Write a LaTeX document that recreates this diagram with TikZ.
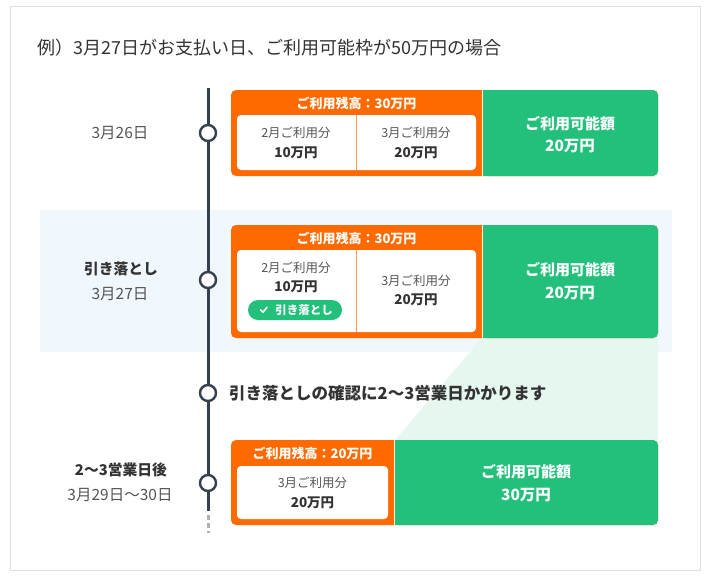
\documentclass[tikz,border=0pt]{standalone}
\usepackage{fontspec}
\setmainfont{Noto Sans CJK JP}
\definecolor{org}{HTML}{FF6A00}
\definecolor{grn}{HTML}{22C07A}
\definecolor{band}{HTML}{F0F7FD}
\definecolor{lgrn}{HTML}{E5F7EE}
\definecolor{txt}{HTML}{333333}
\definecolor{gtxt}{HTML}{555555}
\definecolor{tl}{HTML}{35404E}
\newcommand{\fs}[1]{\fontsize{#1}{#1}\selectfont}
\tikzset{
  orgbox/.style={fill=org, rounded corners=5pt},
  grnbox/.style={fill=grn, rounded corners=5pt},
  inner/.style={fill=white, rounded corners=4pt},
  hdr/.style={text=white, font=\fs{13}\bfseries, inner sep=0pt},
  small/.style={text=gtxt, font=\fs{12.5}, inner sep=0pt},
  amt/.style={text=txt, font=\fs{13.5}\bfseries, inner sep=0pt},
  gtitle/.style={text=white, font=\fs{15}\bfseries, inner sep=0pt},
  gamt/.style={text=white, font=\fs{15.5}\bfseries, inner sep=0pt},
  datelbl/.style={text=gtxt, font=\fs{15.5}, inner sep=0pt},
  boldlbl/.style={text=txt, font=\fs{14.8}\bfseries, inner sep=0pt},
  dot/.style={circle, draw=tl, line width=2.4pt, fill=white, minimum size=16pt, inner sep=0pt},
}
\begin{document}
\begin{tikzpicture}[x=1pt,y=-1pt]
\useasboundingbox (0,0) rectangle (710,579);
\fill[white] (0,0) rectangle (710,579);
\draw[draw=black!13, line width=1pt] (10,6) rectangle (700,570);
\node[anchor=west, text=txt, font=\fs{18}, inner sep=0pt] (title) at (37,48) {例）3月27日がお支払い日、ご利用可能枠が50万円の場合};

% highlight band
\fill[band] (40,210) rectangle (672,352);
% light green transition
\fill[lgrn] (482,338) -- (658,338) -- (658,440) -- (395,440) -- cycle;

% timeline
\coordinate (tltop) at (208,88);
\coordinate (tlend) at (208,511);
\coordinate (tldash) at (208,533);
\draw[tl, line width=3pt] (tltop) -- (tlend);
\draw[black!30, line width=3pt, dash pattern=on 5pt off 3pt] (208,515) -- (tldash);
\node[dot] (d1) at (208,133) {};
\node[dot] (d2) at (208,280) {};
\node[dot] (d3) at (208,393) {};
\node[dot] (d4) at (208,483) {};

% ---------- Row 1 ----------
\node[datelbl] (l1) at (120,133) {3月26日};
\fill[orgbox] (231,90) rectangle (658,176);
\fill[grnbox] (482,90) rectangle (658,176);
\fill[grn] (482,90) rectangle (492,176);
\draw[white!85!org, line width=0.8pt] (482.2,90) -- (482.2,176);
\fill[inner] (237,115) rectangle (476,170);
\draw[org!70, line width=1pt] (356,115) -- (356,170);
\node[hdr] (h1) at (356.5,103) {ご利用残高：30万円};
\node[small] (a1) at (296,133) {2月ご利用分};
\node[amt] (b1) at (296,153) {10万円};
\node[small] (a2) at (416,133) {3月ご利用分};
\node[amt] (b2) at (416,153) {20万円};
\node[gtitle] (g1) at (570,124) {ご利用可能額};
\node[gamt] (g2) at (570,146) {20万円};

% ---------- Row 2 ----------
\node[boldlbl] (l2a) at (121,269) {引き落とし};
\node[datelbl] (l2b) at (120,294) {3月27日};
\fill[orgbox] (231,225) rectangle (658,338);
\fill[grnbox] (482,225) rectangle (658,338);
\fill[grn] (482,225) rectangle (492,338);
\draw[white!85!org, line width=0.8pt] (482.2,225) -- (482.2,338);
\fill[inner] (237,250) rectangle (476,332);
\draw[org!70, line width=1pt] (356,250) -- (356,332);
\node[hdr] (h2) at (356.5,238) {ご利用残高：30万円};
\node[small] (a3) at (296,268) {2月ご利用分};
\node[amt] (b3) at (296,287) {10万円};
\node[fill=grn, rounded corners=10pt, minimum width=94pt, minimum height=20pt, inner sep=0pt] (pill) at (295,310) {};
\node[text=white, font=\fs{11.5}\bfseries, inner sep=0pt] (pilltxt) at (304,310) {引き落とし};
\draw[white, line width=1.6pt, line cap=round, line join=round] (260.5,309.8) -- (263,312.3) -- (267,307.3);
\node[small] (a4) at (416,281) {3月ご利用分};
\node[amt] (b4) at (416,300) {20万円};
\node[gtitle] (g3) at (570,270) {ご利用可能額};
\node[gamt] (g4) at (570,293) {20万円};

% ---------- middle note ----------
\node[anchor=west, text=txt, font=\fs{16.5}\bfseries, inner sep=0pt] (note) at (229,393) {引き落としの確認に2〜3営業日かかります};

% ---------- Row 3 ----------
\node[boldlbl] (l3a) at (121,470) {2〜3営業日後};
\node[datelbl] (l3b) at (120,495) {3月29日〜30日};
\fill[orgbox] (231,440) rectangle (658,525);
\fill[grnbox] (394,440) rectangle (658,525);
\fill[grn] (394,440) rectangle (404,525);
\draw[white!85!org, line width=0.8pt] (394.2,440) -- (394.2,525);
\fill[inner] (237,466) rectangle (388,519);
\node[hdr] (h3) at (312.5,453) {ご利用残高：20万円};
\node[small] (a5) at (312.5,483) {3月ご利用分};
\node[amt] (b5) at (312.5,503) {20万円};
\node[gtitle] (g5) at (526,472) {ご利用可能額};
\node[gamt] (g6) at (526,495) {30万円};
\end{tikzpicture}
\end{document}
